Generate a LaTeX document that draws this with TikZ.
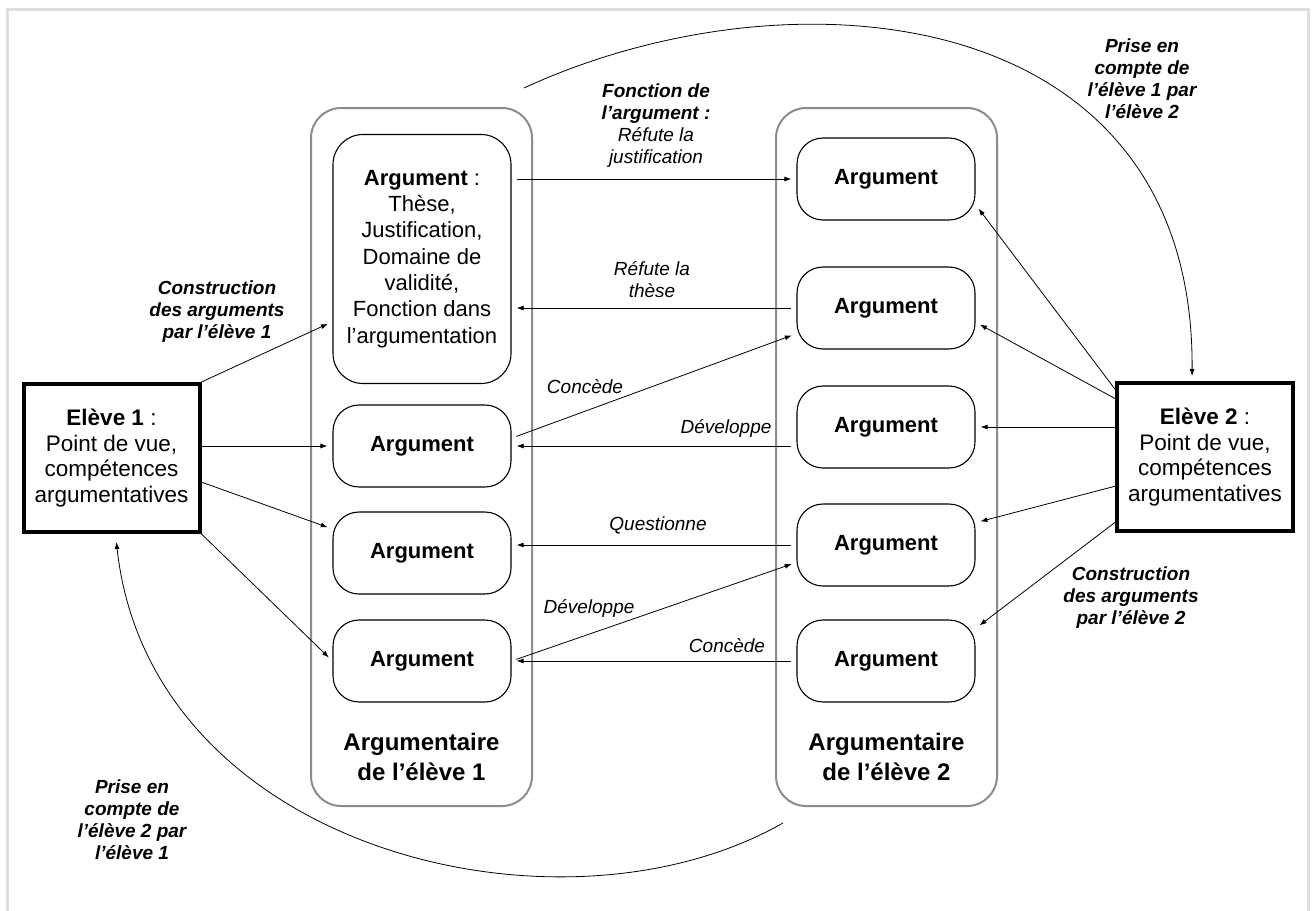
\documentclass[tikz,border=0pt]{standalone}
\usepackage{fontspec}
\setmainfont{Liberation Sans}
\usetikzlibrary{arrows.meta}

\begin{document}
\begin{tikzpicture}[x=1pt,y=-1pt,
    cadre/.style={draw=black!13, line width=3pt},
    argumentaire/.style={draw=black!45, line width=2pt, rounded corners=30pt, minimum width=221pt, minimum height=698pt},
    argbox/.style={draw, line width=1.1pt, rounded corners=26pt, minimum width=178pt, minimum height=82pt, font=\fontsize{22}{26}\selectfont\bfseries},
    eleve/.style={draw, line width=4pt, minimum width=176pt, minimum height=148pt, align=center, font=\fontsize{22.5}{25.5}\selectfont},
    titre/.style={align=center, font=\fontsize{24}{30}\selectfont\bfseries},
    lien/.style={align=center, font=\fontsize{19}{22}\selectfont\itshape},
    lienb/.style={align=center, font=\fontsize{19}{22}\selectfont\bfseries\itshape},
    fleche/.style={-{Latex[length=7pt,width=5pt]}, line width=0.8pt, shorten >=5pt, shorten <=5pt}]

    \useasboundingbox (0,0) rectangle (1313,910);
    \draw[cadre] (7,912) -- (7,9) -- (1308,9) -- (1308,912);

    % les deux argumentaires
    \node[argumentaire] (cont1) at (421.5,457) {};
    \node[argumentaire] (cont2) at (886.5,457) {};
    \node[titre] (titre1) at (421.5,757) {Argumentaire\\de l’élève 1};
    \node[titre] (titre2) at (886.5,757) {Argumentaire\\de l’élève 2};

    \node[argbox, minimum height=249pt, rounded corners=30pt, align=center, font=\fontsize{22}{26.3}\selectfont] (l1) at (422,259)
        {\textbf{Argument} :\\Thèse,\\Justification,\\Domaine de\\validité,\\Fonction dans\\l’argumentation};
    \node[argbox] (l2) at (422,446) {Argument};
    \node[argbox] (l3) at (422,553) {Argument};
    \node[argbox] (l4) at (422,661) {Argument};

    \node[argbox] (r1) at (886,179) {Argument};
    \node[argbox] (r2) at (886,308) {Argument};
    \node[argbox] (r3) at (886,427) {Argument};
    \node[argbox] (r4) at (886,545) {Argument};
    \node[argbox] (r5) at (886,661) {Argument};

    % les eleves
    \node[eleve] (eleve1) at (111.5,458) {\textbf{Elève 1} :\\Point de vue,\\compétences\\argumentatives};
    \node[eleve] (eleve2) at (1205,457) {\textbf{Elève 2} :\\Point de vue,\\compétences\\argumentatives};

    % fonctions
    \draw[fleche] (l1.east |- r1.west) -- (r1.west);
    \draw[fleche] (r2.west) -- (r2.west -| l1.east);
    \draw[fleche] (l2.5) -- (r2.196);
    \draw[fleche] (r3.west |- l2.east) -- (l2.east);
    \draw[fleche] (r4.west) -- (r4.west -| l3.east);
    \draw[fleche] (l4.east) -- (r4.191);
    \draw[fleche] (r5.west) -- (r5.west -| l4.east);

    \node[lien] (fonction) at (656,126) {\textbf{Fonction de}\\\textbf{l’argument :}\\Réfute la\\justification};
    \node[lien] (refthese) at (652,280) {Réfute la\\thèse};
    \node[lien] (concede1) at (585,387) {Concède};
    \node[lien] (dev1) at (726,428) {Développe};
    \node[lien] (question) at (658,525) {Questionne};
    \node[lien] (dev2) at (589,608) {Développe};
    \node[lien] (concede2) at (727,646) {Concède};

    % construction
    \draw[fleche, shorten <=0pt] (eleve1.north east) -- (l1.215);
    \draw[fleche, shorten <=0pt] (eleve1.east |- l2.west) -- (l2.west);
    \draw[fleche, shorten <=0pt] (eleve1.345) -- (l3.165);
    \draw[fleche, shorten <=0pt] (eleve1.south east) -- (l4.west);

    \draw[fleche, shorten <=0pt] (eleve2.143) -- (r1.344);
    \draw[fleche, shorten <=0pt] (eleve2.147) -- (r2.351);
    \draw[fleche, shorten <=0pt] (eleve2.west |- r3.east) -- (r3.east);
    \draw[fleche, shorten <=0pt] (eleve2.198) -- (r4.14);
    \draw[fleche, shorten <=0pt] (eleve2.216) -- (r5.20);

    \node[lienb] (constr1) at (217,312) {Construction\\des arguments\\par l’élève 1};
    \node[lienb] (constr2) at (1131,598) {Construction\\des arguments\\par l’élève 2};

    % prise en compte
    \coordinate (haut) at (524,88);
    \coordinate (bas) at (783,823);
    \draw[fleche, shorten <=0pt] (haut) .. controls (790,-35) and (1195,0) .. ([xshift=-13pt]eleve2.north);
    \draw[fleche, shorten <=0pt, shorten >=8pt] (bas) .. controls (560,950) and (150,850) .. ([xshift=4pt]eleve1.south);

    \node[lienb] (prise1) at (1142,79) {Prise en\\compte de\\l’élève 1 par\\l’élève 2};
    \node[lienb] (prise2) at (132,820) {Prise en\\compte de\\l’élève 2 par\\l’élève 1};
\end{tikzpicture}
\end{document}
